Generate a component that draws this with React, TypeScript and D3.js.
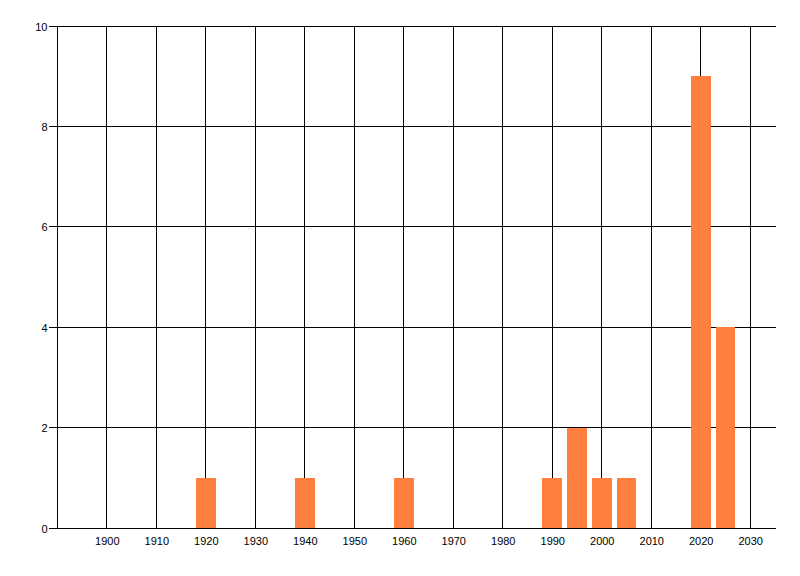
import React, { useEffect, useRef } from 'react';
import * as d3 from 'd3';

const years = [1920, 1940, 1960, 1990, 1995, 2000, 2005, 2020, 2025];
const counts = [1, 1, 1, 1, 2, 1, 1, 9, 4];
const xTicks = [1900, 1910, 1920, 1930, 1940, 1950, 1960, 1970, 1980, 1990, 2000, 2010, 2020, 2030];
const yTicks = [0, 2, 4, 6, 8, 10];

const W = 800;
const H = 576;

const App: React.FC = () => {
  const svgRef = useRef<SVGSVGElement>(null);

  useEffect(() => {
    if (!svgRef.current) return;
    const svg = d3.select(svgRef.current);
    svg.selectAll('*').remove();

    const x = d3.scaleLinear().domain([1890, 2035]).range([57.3, 775]);
    const y = d3.scaleLinear().domain([0, 10]).range([528, 26]);
    const crisp = (v: number) => Math.floor(v) + 0.5;
    const font = '"Liberation Sans", Arial, sans-serif';

    // horizontal grid lines + y ticks
    yTicks.forEach((t) => {
      svg.append('line')
        .attr('x1', 49).attr('x2', 776)
        .attr('y1', crisp(y(t))).attr('y2', crisp(y(t)))
        .attr('stroke', '#000').attr('stroke-width', 1);
      svg.append('text')
        .attr('x', 47.5).attr('y', y(t) + 0.5)
        .attr('text-anchor', 'end')
        .attr('dominant-baseline', 'central')
        .style('font-family', font)
        .style('font-size', '11px')
        .style('fill', '#000')
        .text(String(t));
    });

    // vertical grid lines + x labels
    xTicks.forEach((t) => {
      svg.append('line')
        .attr('x1', crisp(x(t))).attr('x2', crisp(x(t)))
        .attr('y1', y(10)).attr('y2', y(0))
        .attr('stroke', '#000').attr('stroke-width', 1);
      svg.append('text')
        .attr('x', x(t) + 0.5)
        .attr('y', 545)
        .attr('text-anchor', 'middle')
        .style('font-family', font)
        .style('font-size', '11px')
        .style('fill', '#000')
        .text(String(t));
    });

    // left axis line
    svg.append('line')
      .attr('x1', crisp(x(1890))).attr('x2', crisp(x(1890)))
      .attr('y1', y(10)).attr('y2', y(0))
      .attr('stroke', '#000').attr('stroke-width', 1);

    // bars
    svg.append('g')
      .selectAll('rect')
      .data(years.map((yr, i) => ({ yr, v: counts[i] })))
      .join('rect')
      .attr('x', (d) => Math.round(x(d.yr - 2)))
      .attr('width', (d) => Math.round(x(d.yr + 2)) - Math.round(x(d.yr - 2)))
      .attr('y', (d) => Math.round(y(d.v)))
      .attr('height', (d) => Math.round(y(0)) - Math.round(y(d.v)))
      .attr('fill', '#FF7F3F');
  }, []);

  return (
    <svg
      ref={svgRef}
      width={W}
      height={H}
      style={{ position: 'absolute', left: 0, top: 0, background: '#fff' }}
    />
  );
};

export default App;
